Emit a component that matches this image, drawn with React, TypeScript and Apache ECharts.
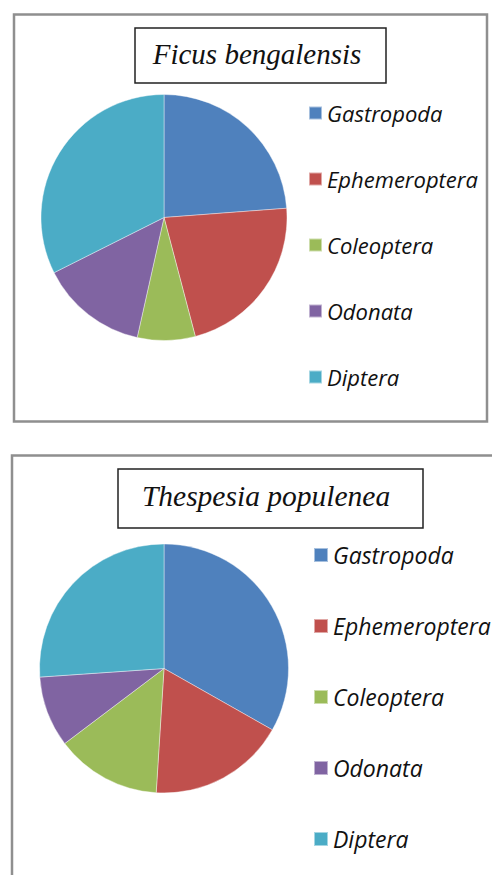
import React, { useEffect, useRef } from "react";
import * as echarts from "echarts";

const categories = ["Gastropoda", "Ephemeroptera", "Coleoptera", "Odonata", "Diptera"];
const ficusValues = [23.8, 22.1, 7.6, 14.1, 32.4];
const thespesiaValues = [33.2, 17.8, 13.7, 9.2, 26.1];
const colors = ["#4F81BD", "#C0504D", "#9BBB59", "#8064A2", "#4BACC6"];
const titleTop = "Ficus bengalensis";
const titleBottom = "Thespesia populenea";

export default function App() {
  const ref = useRef<HTMLDivElement>(null);
  useEffect(() => {
    if (!ref.current) return;
    const chart = echarts.init(ref.current, null, { renderer: "svg" });
    const legendText = (size: number) => ({
      fontFamily: "Open Sans",
      fontStyle: "italic",
      fontSize: size,
      color: "#111",
      lineHeight: 24,
    });
    const pie = (data: number[], center: [number, number], r: number) => ({
      type: "pie",
      center,
      radius: r,
      startAngle: 90,
      clockwise: true,
      label: { show: false },
      labelLine: { show: false },
      emphasis: { disabled: true },
      itemStyle: { borderColor: "rgba(255,255,255,0.5)", borderWidth: 0.8 },
      data: categories.map((c, i) => ({ name: c, value: data[i] })),
    });
    chart.setOption({
      animation: false,
      color: colors,
      backgroundColor: "#ffffff",
      legend: [
        {
          orient: "vertical",
          left: 308,
          top: 101,
          padding: 0,
          itemWidth: 13,
          itemHeight: 13,
          itemGap: 42,
          icon: "rect",
          selectedMode: false,
          textStyle: legendText(22),
          data: categories,
        },
        {
          orient: "vertical",
          left: 313,
          top: 543,
          padding: 0,
          itemWidth: 14,
          itemHeight: 14,
          itemGap: 47,
          icon: "rect",
          selectedMode: false,
          textStyle: legendText(23),
          data: categories,
        },
      ],
      graphic: [
        {
          type: "rect",
          shape: { x: 14, y: 14.5, width: 473, height: 407 },
          style: { fill: "none", stroke: "#8f8f8f", lineWidth: 2.5 },
          z: 10,
        },
        {
          type: "rect",
          shape: { x: 12, y: 455.5, width: 520, height: 460 },
          style: { fill: "none", stroke: "#8f8f8f", lineWidth: 2.5 },
          z: 10,
        },
        {
          type: "rect",
          shape: { x: 135, y: 28, width: 251, height: 55 },
          style: { fill: "#fff", stroke: "#222", lineWidth: 1.5 },
          z: 10,
        },
        {
          type: "text",
          x: 257,
          y: 54,
          style: {
            text: titleTop,
            fontFamily: "Liberation Serif",
            fontStyle: "italic",
            fontSize: 29,
            fill: "#111",
            textAlign: "center",
            textVerticalAlign: "middle",
          },
          z: 11,
        },
        {
          type: "rect",
          shape: { x: 118, y: 469, width: 305, height: 59 },
          style: { fill: "#fff", stroke: "#222", lineWidth: 1.5 },
          z: 10,
        },
        {
          type: "text",
          x: 266,
          y: 496,
          style: {
            text: titleBottom,
            fontFamily: "Liberation Serif",
            fontStyle: "italic",
            fontSize: 29.5,
            fill: "#111",
            textAlign: "center",
            textVerticalAlign: "middle",
          },
          z: 11,
        },
      ],
      series: [pie(ficusValues, [164, 217.5], 123), pie(thespesiaValues, [164, 668.5], 124.5)],
    });
    return () => chart.dispose();
  }, []);
  return (
    <div
      ref={ref}
      style={{ position: "fixed", left: 0, top: 0, width: 492, height: 875 }}
    />
  );
}
